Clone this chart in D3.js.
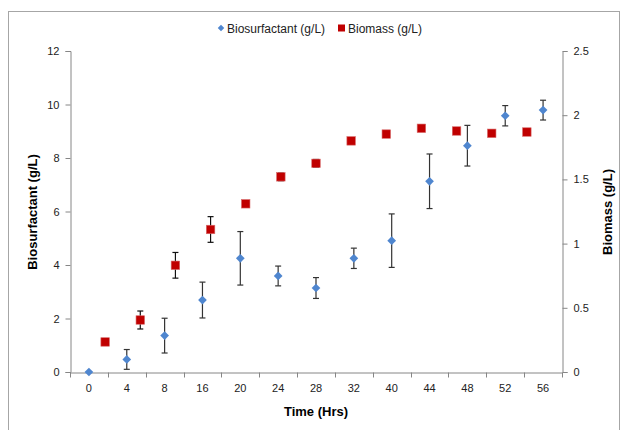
<!DOCTYPE html>
<html>
<head>
<meta charset="utf-8">
<script src="https://cdn.jsdelivr.net/npm/d3@7/dist/d3.min.js"></script>
<style>
  html, body { margin: 0; padding: 0; background: #fff; }
  svg { display: block; font-family: "Liberation Sans", Arial, sans-serif; }
</style>
</head>
<body>
<svg id="chart" width="624" height="430"></svg>
<script>
// Sampling times shown on the category axis (hours)
const timeLabels = ["0", "4", "8", "16", "20", "24", "28", "32", "40", "44", "48", "52", "56"];

// Biosurfactant concentration (g/L) and its error, one per time label
const biosurfactant = [0, 0.47, 1.36, 2.69, 4.25, 3.59, 3.14, 4.25, 4.91, 7.13, 8.46, 9.58, 9.79];
const biosurfactantErr = [0, 0.37, 0.65, 0.67, 1.0, 0.37, 0.39, 0.38, 1.0, 1.02, 0.76, 0.38, 0.37];

// Biomass (g/L), plotted against the secondary time axis
const biomassTime = [4, 8, 12, 16, 20, 24, 28, 32, 36, 40, 44, 48, 52];
const biomass = [0.234, 0.405, 0.831, 1.11, 1.31, 1.52, 1.625, 1.80, 1.853, 1.898, 1.877, 1.859, 1.869];
const biomassErr = [0, 0.07, 0.1, 0.1, 0, 0.03, 0.03, 0, 0.02, 0, 0, 0, 0];

// Axis tick values
const leftTicks = [0, 2, 4, 6, 8, 10, 12];
const rightTicks = [0, 0.5, 1, 1.5, 2, 2.5];

const svg = d3.select("#chart");
const plot = { left: 70, right: 562, top: 51, bottom: 372 };
const axisColor = "#868686";
const textColor = "#222";

// Outer chart frame
svg.append("rect")
  .attr("x", 8.5).attr("y", 11.5)
  .attr("width", 611).attr("height", 440)
  .attr("fill", "none").attr("stroke", "#a6a6a6").attr("stroke-width", 1);

const x = d3.scaleBand().domain(timeLabels).range([plot.left, plot.right]).padding(0);
const x2 = d3.scaleLinear().domain([0, 56]).range([plot.left, plot.right]);
const yL = d3.scaleLinear().domain([0, 12]).range([plot.bottom, plot.top]);
const yR = d3.scaleLinear().domain([0, 2.5]).range([plot.bottom, plot.top]);

// Left axis
const gL = svg.append("g").attr("transform", `translate(${plot.left + 0.5},0)`)
  .call(d3.axisLeft(yL).tickValues(leftTicks).tickSize(5).tickPadding(6).tickFormat(d3.format("d")));
// Right axis
const gR = svg.append("g").attr("transform", `translate(${plot.right + 0.5},0)`)
  .call(d3.axisRight(yR).tickValues(rightTicks).tickSize(5).tickPadding(6).tickFormat(d => d));
// Bottom category axis: labels at band centres, ticks at band boundaries
const gB = svg.append("g").attr("transform", `translate(0,${plot.bottom + 0.5})`)
  .call(d3.axisBottom(x).tickSize(0).tickPadding(12));
gB.selectAll(".bound")
  .data(d3.range(timeLabels.length + 1))
  .join("line")
  .attr("class", "bound")
  .attr("x1", i => Math.round(plot.left + i * x.step()) + 0.5)
  .attr("x2", i => Math.round(plot.left + i * x.step()) + 0.5)
  .attr("y1", 0).attr("y2", 5)
  .attr("stroke", axisColor);

[gL, gR, gB].forEach(g => {
  g.select(".domain").attr("stroke", axisColor);
  g.selectAll(".tick line").attr("stroke", axisColor);
  g.selectAll("text").attr("fill", textColor).style("font-size", "11px")
    .style("font-family", "'Liberation Sans', Arial, sans-serif");
});

// Axis titles
svg.append("text")
  .attr("x", 316).attr("y", 416)
  .attr("text-anchor", "middle")
  .style("font-size", "13px").style("font-weight", "bold").attr("fill", "#000")
  .text("Time (Hrs)");
svg.append("text")
  .attr("transform", "translate(37,212) rotate(-90)")
  .attr("text-anchor", "middle")
  .style("font-size", "13px").style("font-weight", "bold").attr("fill", "#000")
  .text("Biosurfactant (g/L)");
svg.append("text")
  .attr("transform", "translate(612,212) rotate(-90)")
  .attr("text-anchor", "middle")
  .style("font-size", "13px").style("font-weight", "bold").attr("fill", "#000")
  .text("Biomass (g/L)");

const blue = "#4F86CF";
const red = "#C00000";
const capW = 3;

// Error bars helper
function errorBars(cls, xs, ys, es, yScale, color) {
  const g = svg.append("g").attr("class", cls).attr("stroke", color).attr("stroke-width", 1.2);
  xs.forEach((xv, i) => {
    const e = es[i];
    if (!e) return;
    const hi = yScale(ys[i] + e), lo = yScale(ys[i] - e);
    g.append("line").attr("x1", xv).attr("x2", xv).attr("y1", hi).attr("y2", lo);
    g.append("line").attr("x1", xv - capW).attr("x2", xv + capW).attr("y1", hi).attr("y2", hi);
    g.append("line").attr("x1", xv - capW).attr("x2", xv + capW).attr("y1", lo).attr("y2", lo);
  });
}

const bioX = timeLabels.map(t => x(t) + x.bandwidth() / 2);
const massX = biomassTime.map(t => x2(t));

errorBars("err-mass", massX, biomass, biomassErr, yR, "#111");
errorBars("err-bio", bioX, biosurfactant, biosurfactantErr, yL, "#333");

// Biomass squares
svg.append("g").selectAll("rect")
  .data(biomass)
  .join("rect")
  .attr("x", (d, i) => massX[i] - 4.25)
  .attr("y", d => yR(d) - 4.25)
  .attr("width", 8.5).attr("height", 8.5)
  .attr("fill", red).attr("stroke", "#d86a6a").attr("stroke-width", 0.6);

// Biosurfactant diamonds
const diamond = d3.symbol().type(d3.symbolSquare).size(38);
svg.append("g").selectAll("path")
  .data(biosurfactant)
  .join("path")
  .attr("d", diamond)
  .attr("transform", (d, i) => `translate(${bioX[i]},${yL(d)}) rotate(45)`)
  .attr("fill", blue);

// Legend
const legend = svg.append("g").style("font-size", "12px").attr("fill", textColor);
legend.append("path").attr("d", diamond)
  .attr("transform", "translate(221,28) rotate(45) scale(0.75)")
  .attr("fill", blue);
legend.append("text").attr("x", 227).attr("y", 32.5).text("Biosurfactant (g/L)");
legend.append("rect").attr("x", 338).attr("y", 24.5).attr("width", 7).attr("height", 7).attr("fill", red);
legend.append("text").attr("x", 348).attr("y", 32.5).text("Biomass (g/L)");
</script>
</body>
</html>
